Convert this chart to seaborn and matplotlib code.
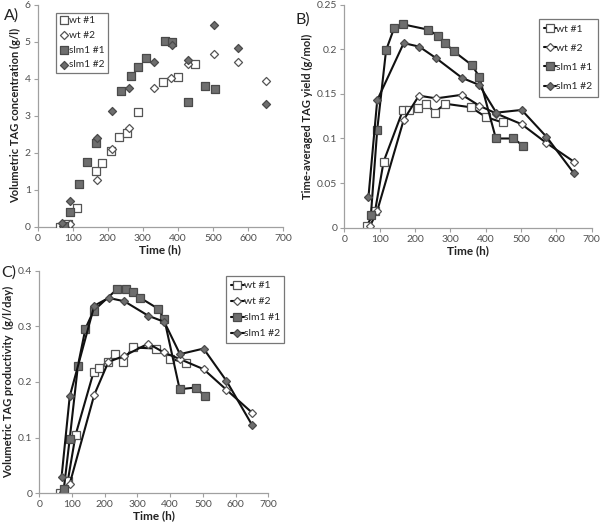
import matplotlib
matplotlib.use("Agg")
import matplotlib.pyplot as plt
import seaborn as sns
import pandas as pd

# ---- data ----
series_names = ["wt #1", "wt #2", "slm1 #1", "slm1 #2"]

wt1_t = [63, 87, 111, 166, 183, 209, 232, 256, 285, 358, 401, 448]
wt2_t = [73, 93, 168, 211, 260, 333, 381, 430, 502, 572, 650]
slm1_t = [75, 93, 118, 141, 166, 238, 265, 286, 309, 362, 382, 429, 478, 506]
slm2_t = [68, 93, 168, 212, 260, 333, 382, 430, 502, 572, 650]

# A) volumetric TAG concentration (g/l)
wt1_A = [0.0, 0.07, 0.5, 1.51, 1.73, 2.05, 2.42, 2.53, 3.11, 3.9, 4.05, 4.39]
wt2_A = [0.02, 0.07, 1.25, 2.09, 2.68, 3.76, 4.03, 4.39, 4.68, 4.44, 3.95]
slm1_A = [0.03, 0.39, 1.14, 1.75, 2.27, 3.67, 4.07, 4.32, 4.56, 5.03, 4.99, 3.37, 3.8, 3.71]
slm2_A = [0.09, 0.68, 2.39, 3.12, 3.76, 4.45, 4.9, 4.5, 5.46, 4.84, 3.32]

# B) time-averaged TAG yield (g/mol)
wt1_B = [0.002, 0.019, 0.074, 0.132, 0.132, 0.134, 0.139, 0.129, 0.139, 0.135, 0.124, 0.118]
wt2_B = [0.002, 0.019, 0.121, 0.148, 0.145, 0.149, 0.137, 0.128, 0.116, 0.095, 0.074]
slm1_B = [0.014, 0.11, 0.199, 0.224, 0.228, 0.222, 0.215, 0.207, 0.198, 0.182, 0.169, 0.1, 0.1, 0.092]
slm2_B = [0.034, 0.143, 0.207, 0.203, 0.19, 0.168, 0.16, 0.129, 0.132, 0.102, 0.061]

# C) volumetric TAG productivity (g/l/day)
wt1_C = [0.001, 0.022, 0.105, 0.218, 0.225, 0.236, 0.25, 0.236, 0.262, 0.26, 0.242, 0.234]
wt2_C = [0.002, 0.017, 0.177, 0.236, 0.247, 0.269, 0.253, 0.241, 0.223, 0.186, 0.145]
slm1_C = [0.008, 0.098, 0.229, 0.296, 0.328, 0.367, 0.367, 0.362, 0.351, 0.332, 0.313, 0.187, 0.19, 0.175]
slm2_C = [0.029, 0.174, 0.337, 0.351, 0.345, 0.319, 0.308, 0.25, 0.26, 0.202, 0.123]

x_ticks = [0, 100, 200, 300, 400, 500, 600, 700]
a_yticks = [0, 1, 2, 3, 4, 5, 6]
b_yticks = [0, 0.05, 0.1, 0.15, 0.2, 0.25]
c_yticks = [0, 0.1, 0.2, 0.3, 0.4]

times = [wt1_t, wt2_t, slm1_t, slm2_t]

def long_df(vals):
    rows = []
    for name, t, v in zip(series_names, times, vals):
        for ti, vi in zip(t, v):
            rows.append({"series": name, "time": ti, "value": vi})
    return pd.DataFrame(rows)

dfA = long_df([wt1_A, wt2_A, slm1_A, slm2_A])
dfB = long_df([wt1_B, wt2_B, slm1_B, slm2_B])
dfC = long_df([wt1_C, wt2_C, slm1_C, slm2_C])

# ---- style ----
sns.set_theme(style="white")
plt.rcParams["font.family"] = ["Lato", "DejaVu Sans"]

styles = {
    "wt #1":   dict(marker="s", mfc="white",   mec="#555555", ms=5.5),
    "wt #2":   dict(marker="D", mfc="white",   mec="#555555", ms=3.6),
    "slm1 #1": dict(marker="s", mfc="#6e6e6e", mec="#4a4a4a", ms=5.5),
    "slm1 #2": dict(marker="D", mfc="#6e6e6e", mec="#4a4a4a", ms=3.6),
}

fig = plt.figure(figsize=(6.0, 5.27), dpi=100)
axA = fig.add_axes([0.0628, 0.570, 0.409, 0.421])
axB = fig.add_axes([0.574, 0.568, 0.412, 0.423])
axC = fig.add_axes([0.0655, 0.064, 0.3817, 0.4224])

axis_color = "#a0a0a0"
tick_color = "#505050"

def style_axes(ax, yticks, ylabel, ylim):
    ax.set_xlim(0, 700)
    ax.set_ylim(*ylim)
    ax.set_xticks(x_ticks)
    ax.set_yticks(yticks)
    ax.set_yticklabels(["%g" % v for v in yticks])
    for s in ["top", "right"]:
        ax.spines[s].set_visible(False)
    for s in ["left", "bottom"]:
        ax.spines[s].set_color(axis_color)
        ax.spines[s].set_linewidth(0.9)
    ax.tick_params(axis="both", which="both", direction="out", length=3,
                   width=0.8, color=axis_color, labelsize=7.5,
                   labelcolor=tick_color, pad=2, left=True, bottom=True)
    ax.set_xlabel("Time (h)", fontsize=8.5, fontweight="bold", labelpad=1, color="#222222")
    ax.set_ylabel(ylabel, fontsize=8, fontweight="bold", labelpad=3, color="#222222")
    ax.grid(False)
    ax.set_facecolor("white")

# Panel A: scatter
for name in series_names:
    st = styles[name]
    sub = dfA[dfA["series"] == name]
    size = (st["ms"] + 0.5) ** 2
    sns.scatterplot(data=sub, x="time", y="value", ax=axA, marker=st["marker"],
                    color=st["mfc"], edgecolor=st["mec"], linewidth=0.9,
                    s=size, label=name, zorder=3)
style_axes(axA, a_yticks, "Volumetric TAG concentration (g/l)", (0, 6))
legA = axA.legend(loc="upper left", bbox_to_anchor=(0.075, 0.965), fontsize=7.3,
                  frameon=True, fancybox=False, edgecolor="#555555",
                  handletextpad=0.1, borderpad=0.35, labelspacing=0.55,
                  handlelength=0.8, borderaxespad=0)
legA.get_frame().set_linewidth(0.9)

# Panels B, C: lines with markers
def line_panel(ax, df):
    for name in series_names:
        st = styles[name]
        sub = df[df["series"] == name]
        sns.lineplot(data=sub, x="time", y="value", ax=ax, sort=False,
                     estimator=None, color="#111111", linewidth=1.5,
                     marker=st["marker"], markerfacecolor=st["mfc"],
                     markeredgecolor=st["mec"], markersize=st["ms"] + 0.5,
                     markeredgewidth=0.9, label=name)

line_panel(axB, dfB)
style_axes(axB, b_yticks, "Time-averaged TAG yield (g/mol)", (0, 0.25))
legB = axB.legend(loc="upper right", bbox_to_anchor=(1.025, 0.935), fontsize=7.5,
                  frameon=True, fancybox=False, edgecolor="#555555",
                  handletextpad=0.0, borderpad=0.5, labelspacing=0.95,
                  handlelength=1.2, borderaxespad=0)
legB.get_frame().set_linewidth(0.9)

line_panel(axC, dfC)
style_axes(axC, c_yticks, "Volumetric TAG productivity  (g/l/day)", (0, 0.4))
legC = axC.legend(loc="upper right", bbox_to_anchor=(1.07, 0.975), fontsize=7.5,
                  frameon=True, fancybox=False, edgecolor="#555555",
                  handletextpad=0.0, borderpad=0.45, labelspacing=0.65,
                  handlelength=1.2, borderaxespad=0)
legC.get_frame().set_linewidth(0.9)

# panel letters
fig.text(0.006, 0.985, "A)", fontsize=11.5, color="#222222", va="top", ha="left")
fig.text(0.493, 0.977, "B)", fontsize=11.5, color="#222222", va="top", ha="left")
fig.text(0.002, 0.497, "C)", fontsize=11.5, color="#222222", va="top", ha="left")

fig.savefig("out.png", dpi=100, facecolor="white")
